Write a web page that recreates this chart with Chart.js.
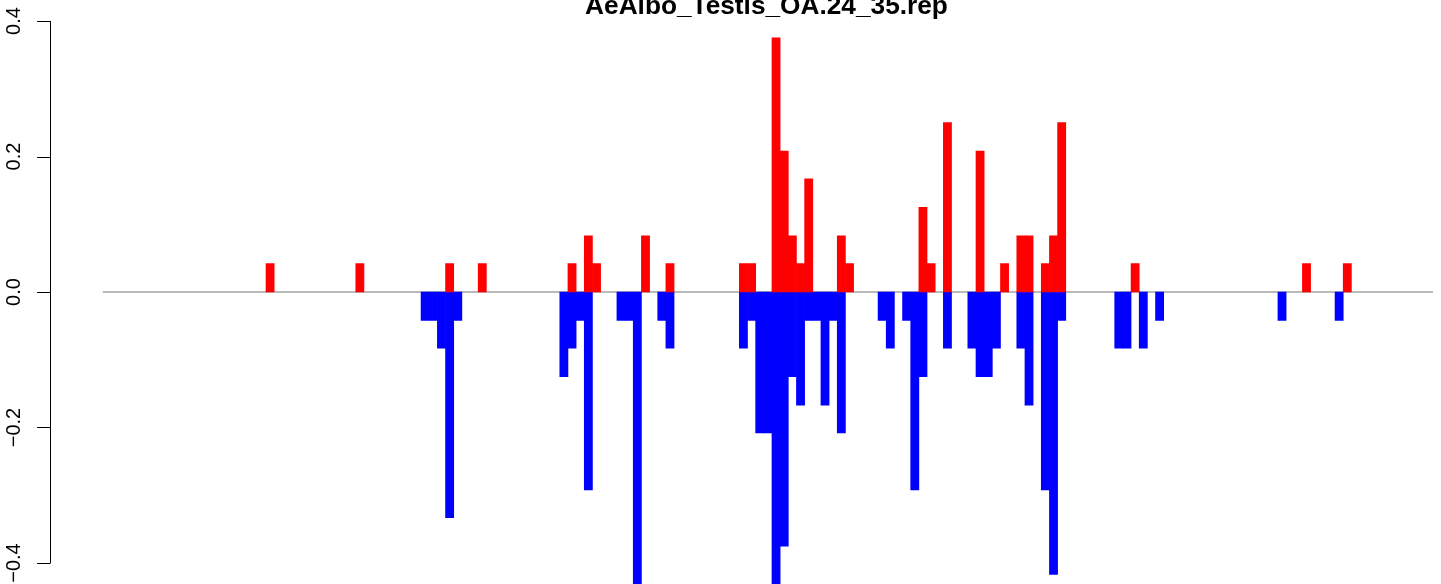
<!DOCTYPE html>
<html>
<head>
<meta charset="utf-8">
<script src="https://cdn.jsdelivr.net/npm/chart.js"></script>
<style>
  html, body { margin: 0; padding: 0; background: #fff; }
  #wrap { width: 1441px; height: 584px; position: relative; }
</style>
</head>
<body>
<div id="wrap"><canvas id="repChart" width="1441" height="584"></canvas></div>
<script>
var TITLE = "AeAlbo_Testis_OA.24_35.rep";
var N_BINS = 163;

// bins with a positive (red) value and their heights
var redBins = [20, 31, 42, 46, 57, 59, 60, 66, 69, 78, 79, 82, 83, 84, 85, 86, 90, 91,
               100, 101, 103, 107, 110, 112, 113, 115, 116, 117, 126, 147, 152];
var redVals = [0.042, 0.042, 0.042, 0.042, 0.042, 0.083, 0.042, 0.083, 0.042,
               0.042, 0.042, 0.375, 0.208, 0.083, 0.042, 0.167, 0.083, 0.042,
               0.125, 0.042, 0.25, 0.208, 0.042, 0.083, 0.083, 0.042, 0.083, 0.25,
               0.042, 0.042, 0.042];

// bins with a negative (blue) value and their depths
var blueBins = [39, 40, 41, 42, 43, 56, 57, 58, 59, 63, 64, 65, 68, 69,
                78, 79, 80, 81, 82, 83, 84, 85, 86, 87, 88, 89, 90,
                95, 96, 98, 99, 100, 103, 106, 107, 108, 109, 112, 113,
                115, 116, 117, 124, 125, 127, 129, 144, 151];
var blueVals = [-0.042, -0.042, -0.083, -0.333, -0.042, -0.125, -0.083, -0.042, -0.292,
                -0.042, -0.042, -0.458, -0.042, -0.083,
                -0.083, -0.042, -0.208, -0.208, -0.458, -0.375, -0.125, -0.167, -0.042,
                -0.042, -0.167, -0.042, -0.208,
                -0.042, -0.083, -0.042, -0.292, -0.125, -0.083, -0.083, -0.125, -0.125,
                -0.083, -0.083, -0.167, -0.292, -0.417, -0.042, -0.083, -0.083, -0.083,
                -0.042, -0.042, -0.042];

var yTicks = [-0.4, -0.2, 0.0, 0.2, 0.4];
var yTickLabels = ["\u22120.4", "\u22120.2", "0.0", "0.2", "0.4"];

function toPoints(bins, vals) {
  return bins.map(function(b, i) {
    return {x: b + 0.5, y: vals[i]};
  });
}

// gray zero line under the bars
var zeroLine = {
  id: "zeroLine",
  beforeDatasetsDraw: function(chart) {
    var ctx = chart.ctx;
    var y = chart.scales.y.getPixelForValue(0);
    ctx.save();
    ctx.strokeStyle = "#a3a3a3";
    ctx.lineWidth = 1.6;
    ctx.beginPath();
    ctx.moveTo(chart.chartArea.left, y);
    ctx.lineTo(chart.chartArea.right, y);
    ctx.stroke();
    ctx.restore();
  }
};

// R style axis on the left plus the title
var rAxis = {
  id: "rAxis",
  afterDraw: function(chart) {
    var ctx = chart.ctx;
    var ys = chart.scales.y;
    var axisX = 50.5;
    var top = ys.getPixelForValue(yTicks[yTicks.length - 1]);
    var bottom = ys.getPixelForValue(yTicks[0]);
    ctx.save();
    ctx.strokeStyle = "#000";
    ctx.lineWidth = 1;
    ctx.beginPath();
    ctx.moveTo(axisX, top);
    ctx.lineTo(axisX, bottom);
    yTicks.forEach(function(t) {
      var py = Math.round(ys.getPixelForValue(t)) + 0.5;
      ctx.moveTo(axisX, py);
      ctx.lineTo(37, py);
    });
    ctx.stroke();

    ctx.fillStyle = "#000";
    ctx.font = "20px 'Liberation Sans', Arial, sans-serif";
    ctx.textAlign = "center";
    ctx.textBaseline = "alphabetic";
    yTicks.forEach(function(t, i) {
      ctx.save();
      ctx.translate(20, ys.getPixelForValue(t));
      ctx.rotate(-Math.PI / 2);
      ctx.fillText(yTickLabels[i], 0, 0);
      ctx.restore();
    });

    // title, mostly cut off by the top edge
    ctx.font = "bold 20px 'Liberation Sans', Arial, sans-serif";
    var w = ctx.measureText(TITLE).width;
    var size = 20 * 363 / w;
    ctx.font = "bold " + size.toFixed(2) + "px 'Liberation Sans', Arial, sans-serif";
    ctx.fillText(TITLE, 766.5, 13.5);
    ctx.restore();
  }
};

var ctx = document.getElementById("repChart").getContext("2d");
new Chart(ctx, {
  type: "bar",
  data: {
    datasets: [{
      label: "up",
      data: toPoints(redBins, redVals),
      backgroundColor: "#ff0000",
      borderWidth: 0,
      grouped: false,
      barPercentage: 1,
      categoryPercentage: 1
    }, {
      label: "down",
      data: toPoints(blueBins, blueVals),
      backgroundColor: "#0000ff",
      borderWidth: 0,
      grouped: false,
      barPercentage: 1,
      categoryPercentage: 1
    }]
  },
  options: {
    responsive: false,
    animation: false,
    events: [],
    layout: {padding: {left: 102.8, right: 8, top: 0, bottom: 0}},
    plugins: {
      legend: {display: false},
      title: {display: false},
      tooltip: {enabled: false}
    },
    scales: {
      x: {type: "linear", min: 0, max: N_BINS, offset: false, display: false},
      y: {min: -0.431, max: 0.431, display: false}
    }
  },
  plugins: [zeroLine, rAxis]
});
</script>
</body>
</html>
